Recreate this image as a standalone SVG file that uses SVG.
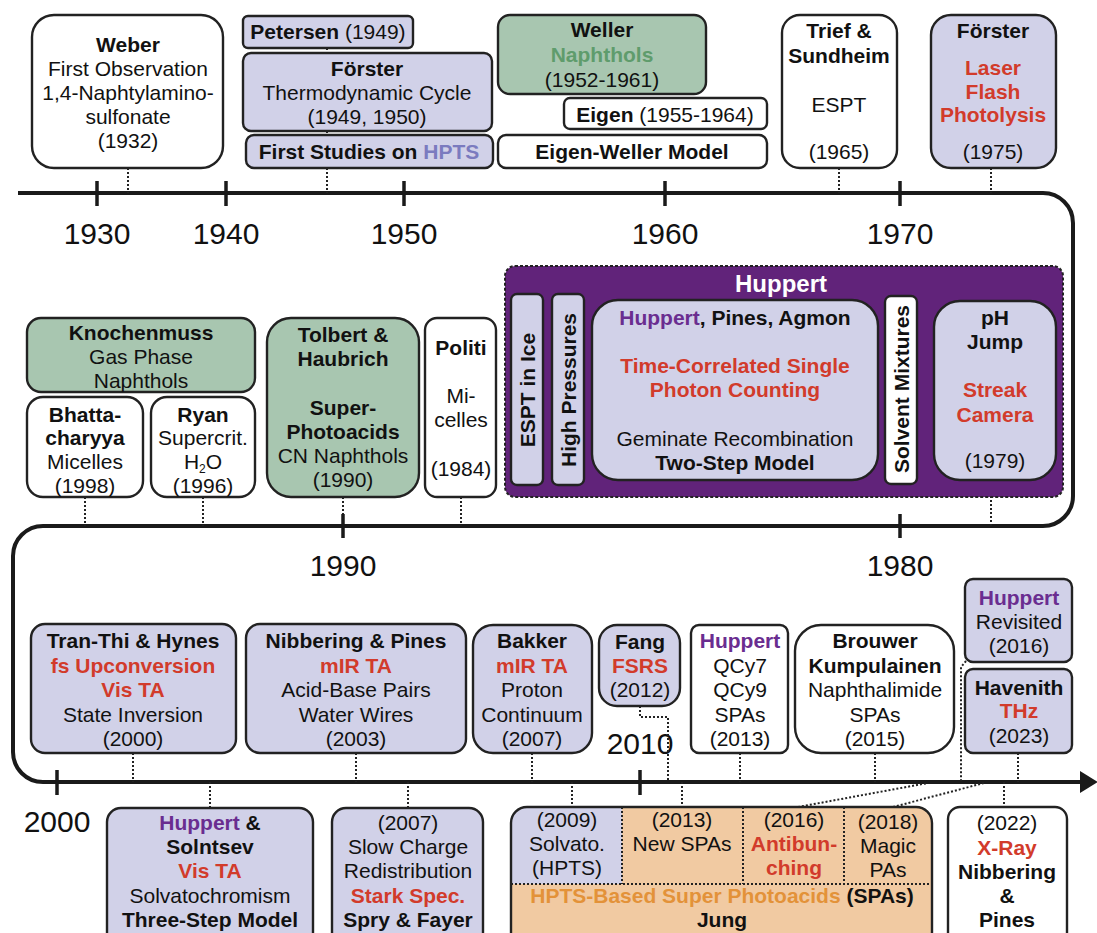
<svg xmlns="http://www.w3.org/2000/svg" width="1097" height="933" viewBox="0 0 1097 933">
<style>
text{font-family:"Liberation Sans",Arial,sans-serif;font-size:21px;fill:#111;text-anchor:middle}
.bd{font-weight:bold}
.r{fill:#d23b2b;font-weight:bold}
.p{fill:#6a2d90;font-weight:bold}
.g{fill:#5f9c6c;font-weight:bold}
.yr{font-size:30px}
.w{fill:#fff;stroke:#222;stroke-width:2.4}
.lav{fill:#d1d1e8;stroke:#222;stroke-width:2.4}
.grn{fill:#a8c6b0;stroke:#222;stroke-width:2.4}
.dot{stroke:#222;stroke-width:2;stroke-dasharray:2 2;fill:none}
.axis{stroke:#1a1a1a;stroke-width:4;fill:none}
.tick{stroke:#1a1a1a;stroke-width:3.5}
</style>
<defs>
<marker id="arr" markerUnits="userSpaceOnUse" markerWidth="18" markerHeight="22" viewBox="0 0 18 22" refX="2" refY="11" orient="auto">
<path d="M0,0 L18,11 L0,22 z" fill="#1a1a1a"/>
</marker>
</defs>
<rect width="1097" height="933" fill="#fff"/>

<g id="timeline">
<path class="axis" d="M18,193 H1043 A30,30 0 0 1 1073,223 V496 A30,30 0 0 1 1043,526 H43 A30,30 0 0 0 13,556 V752 A30,30 0 0 0 43,782 H1082" marker-end="url(#arr)"/>
<g class="tick">
<line x1="97" y1="181" x2="97" y2="206"/>
<line x1="226" y1="181" x2="226" y2="206"/>
<line x1="404" y1="181" x2="404" y2="206"/>
<line x1="665" y1="181" x2="665" y2="206"/>
<line x1="900" y1="181" x2="900" y2="206"/>
<line x1="343" y1="514" x2="343" y2="538"/>
<line x1="900" y1="514" x2="900" y2="538"/>
<line x1="57" y1="770" x2="57" y2="795"/>
<line x1="640" y1="770" x2="640" y2="795"/>
</g>
<g>
<text class="yr" x="97" y="244">1930</text>
<text class="yr" x="226" y="244">1940</text>
<text class="yr" x="404" y="244">1950</text>
<text class="yr" x="665" y="244">1960</text>
<text class="yr" x="900" y="244">1970</text>
<text class="yr" x="343" y="576">1990</text>
<text class="yr" x="900" y="576">1980</text>
<text class="yr" x="57" y="832">2000</text>
<text class="yr" x="640" y="754">2010</text>
</g>
</g>

<g id="connectors">
<path class="dot" d="M128,168 V193"/>
<path class="dot" d="M327,48 V53"/>
<path class="dot" d="M327,131 V135"/>
<path class="dot" d="M327,168 V193"/>
<path class="dot" d="M839,168 V193"/>
<path class="dot" d="M991,168 V193"/>
<path class="dot" d="M85,497 V526"/>
<path class="dot" d="M203,497 V526"/>
<path class="dot" d="M343,497 V514"/>
<path class="dot" d="M461,497 V526"/>
<path class="dot" d="M991,480 V526"/>
<path class="dot" d="M133,753 V782"/>
<path class="dot" d="M356,753 V782"/>
<path class="dot" d="M210,782 V808"/>
<path class="dot" d="M408,782 V808"/>
<path class="dot" d="M532,753 V782"/>
<path class="dot" d="M640,706 V717 H668 V782"/>
<path class="dot" d="M572,782 V807"/>
<path class="dot" d="M682,782 V807"/>
<path class="dot" d="M740,753 V782"/>
<path class="dot" d="M875,753 V782"/>
<path class="dot" d="M966,661 L961,667 V782"/>
<path class="dot" d="M798,807 L928,783"/>
<path class="dot" d="M893,807 L984,783"/>
<path class="dot" d="M1018,753 V782"/>
<path class="dot" d="M1004,782 V807"/>
</g>

<g id="weber">
<rect class="w" x="32" y="15" width="191" height="153" rx="22"/>
<text x="128" y="52" class="bd">Weber</text>
<text x="128" y="76">First Observation</text>
<text x="128" y="100">1,4-Naphtylamino-</text>
<text x="128" y="124">sulfonate</text>
<text x="128" y="148">(1932)</text>
</g>
<g id="petersen">
<rect class="lav" x="243" y="16" width="170" height="32" rx="5"/>
<text x="328" y="39"><tspan class="bd">Petersen</tspan> (1949)</text>
</g>
<g id="forster-1949">
<rect class="lav" x="243" y="53" width="249" height="78" rx="8"/>
<text x="367" y="76" class="bd">Förster</text>
<text x="367" y="100">Thermodynamic Cycle</text>
<text x="367" y="124">(1949, 1950)</text>
</g>
<g id="first-studies">
<rect class="lav" x="246" y="135" width="247" height="33" rx="8"/>
<text x="369" y="159" class="bd">First Studies on <tspan fill="#7b7bbf">HPTS</tspan></text>
</g>
<g id="weller">
<rect class="grn" x="498" y="15" width="208" height="79" rx="12"/>
<text x="602" y="37" class="bd">Weller</text>
<text x="602" y="62" class="g">Naphthols</text>
<text x="602" y="87">(1952-1961)</text>
</g>
<g id="eigen">
<rect class="w" x="564" y="98" width="203" height="31" rx="6"/>
<text x="665" y="122"><tspan class="bd">Eigen</tspan> (1955-1964)</text>
</g>
<g id="eigen-weller">
<rect class="w" x="498" y="135" width="269" height="33" rx="8"/>
<text x="632" y="159" class="bd">Eigen-Weller Model</text>
</g>
<g id="trief">
<rect class="w" x="782" y="15" width="115" height="153" rx="18"/>
<text x="839" y="38" class="bd">Trief &amp;</text>
<text x="839" y="63" class="bd">Sundheim</text>
<text x="839" y="112">ESPT</text>
<text x="839" y="159">(1965)</text>
</g>
<g id="forster-1975">
<rect class="lav" x="931" y="15" width="125" height="153" rx="20"/>
<text x="993" y="38" class="bd">Förster</text>
<text x="993" y="75" class="r">Laser</text>
<text x="993" y="99" class="r">Flash</text>
<text x="993" y="122" class="r">Photolysis</text>
<text x="993" y="159">(1975)</text>
</g>

<g id="knochenmuss">
<rect class="grn" x="27" y="318" width="228" height="74" rx="14"/>
<text x="141" y="340" class="bd">Knochenmuss</text>
<text x="141" y="364">Gas Phase</text>
<text x="141" y="388">Naphthols</text>
</g>
<g id="bhattacharyya">
<rect class="w" x="27" y="397" width="116" height="100" rx="16"/>
<text x="85" y="422" class="bd">Bhatta-</text>
<text x="85" y="445" class="bd">charyya</text>
<text x="85" y="469">Micelles</text>
<text x="85" y="493">(1998)</text>
</g>
<g id="ryan">
<rect class="w" x="151" y="397" width="104" height="100" rx="16"/>
<text x="203" y="422" class="bd">Ryan</text>
<text x="203" y="445">Supercrit.</text>
<text x="203" y="469">H<tspan font-size="12" dy="4">2</tspan><tspan dy="-4">O</tspan></text>
<text x="203" y="493">(1996)</text>
</g>
<g id="tolbert">
<rect class="grn" x="267" y="318" width="152" height="179" rx="24"/>
<text x="343" y="342" class="bd">Tolbert &amp;</text>
<text x="343" y="366" class="bd">Haubrich</text>
<text x="343" y="415" class="bd">Super-</text>
<text x="343" y="439" class="bd">Photoacids</text>
<text x="343" y="463">CN Naphthols</text>
<text x="343" y="487">(1990)</text>
</g>
<g id="politi">
<rect class="w" x="425" y="318" width="71" height="179" rx="12"/>
<text x="461" y="355" class="bd">Politi</text>
<text x="461" y="403">Mi-</text>
<text x="461" y="427">celles</text>
<text x="461" y="476">(1984)</text>
</g>

<g id="huppert-group">
<rect x="505" y="266" width="558" height="231" rx="10" fill="#61237a" stroke="#222" stroke-width="2" stroke-dasharray="3 2"/>
<text x="781" y="292" class="bd" style="fill:#fff;font-size:24px">Huppert</text>
<g id="espt-ice">
<rect class="lav" x="511" y="294" width="32" height="191" rx="6"/>
<text class="bd" transform="translate(534.5,390) rotate(-90)">ESPT in Ice</text>
</g>
<g id="high-pressures">
<rect class="lav" x="552" y="294" width="32" height="191" rx="6"/>
<text class="bd" transform="translate(575.5,390) rotate(-90)">High Pressures</text>
</g>
<g id="huppert-pines-agmon">
<rect class="lav" x="592" y="300" width="286" height="180" rx="26"/>
<text x="735" y="325" class="bd"><tspan class="p">Huppert</tspan>, Pines, Agmon</text>
<text x="735" y="373" class="r">Time-Correlated Single</text>
<text x="735" y="397" class="r">Photon Counting</text>
<text x="735" y="446">Geminate Recombination</text>
<text x="735" y="470" class="bd">Two-Step Model</text>
</g>
<g id="solvent-mixtures">
<rect class="w" x="885" y="296" width="32" height="188" rx="6"/>
<text class="bd" transform="translate(908.5,389) rotate(-90)">Solvent Mixtures</text>
</g>
<g id="ph-jump">
<rect class="lav" x="934" y="301" width="122" height="179" rx="26"/>
<text x="995" y="325" class="bd">pH</text>
<text x="995" y="349" class="bd">Jump</text>
<text x="995" y="397" class="r">Streak</text>
<text x="995" y="422" class="r">Camera</text>
<text x="995" y="468">(1979)</text>
</g>
</g>

<g id="tran-thi">
<rect class="lav" x="31" y="624" width="205" height="129" rx="14"/>
<text x="133" y="648" class="bd">Tran-Thi &amp; Hynes</text>
<text x="133" y="673" class="r">fs Upconversion</text>
<text x="133" y="697" class="r">Vis TA</text>
<text x="133" y="722">State Inversion</text>
<text x="133" y="746">(2000)</text>
</g>
<g id="nibbering-2003">
<rect class="lav" x="246" y="624" width="220" height="129" rx="14"/>
<text x="356" y="648" class="bd">Nibbering &amp; Pines</text>
<text x="356" y="673" class="r">mIR TA</text>
<text x="356" y="697">Acid-Base Pairs</text>
<text x="356" y="722">Water Wires</text>
<text x="356" y="746">(2003)</text>
</g>
<g id="bakker">
<rect class="lav" x="473" y="625" width="119" height="128" rx="20"/>
<text x="532" y="648" class="bd">Bakker</text>
<text x="532" y="673" class="r">mIR TA</text>
<text x="532" y="697">Proton</text>
<text x="532" y="722">Continuum</text>
<text x="532" y="746">(2007)</text>
</g>
<g id="fang">
<rect class="lav" x="599" y="625" width="81" height="81" rx="18"/>
<text x="640" y="649" class="bd">Fang</text>
<text x="640" y="673" class="r">FSRS</text>
<text x="640" y="697">(2012)</text>
</g>
<g id="huppert-qcy">
<rect class="w" x="691" y="625" width="97" height="128" rx="8"/>
<text x="740" y="648" class="p">Huppert</text>
<text x="740" y="673">QCy7</text>
<text x="740" y="697">QCy9</text>
<text x="740" y="722">SPAs</text>
<text x="740" y="746">(2013)</text>
</g>
<g id="brouwer">
<rect class="w" x="795" y="625" width="159" height="128" rx="26"/>
<text x="875" y="648" class="bd">Brouwer</text>
<text x="875" y="673" class="bd">Kumpulainen</text>
<text x="875" y="697">Naphthalimide</text>
<text x="875" y="722">SPAs</text>
<text x="875" y="746">(2015)</text>
</g>
<g id="huppert-revisited">
<rect class="lav" x="965" y="579" width="107" height="83" rx="8"/>
<text x="1019" y="605" class="p">Huppert</text>
<text x="1019" y="629">Revisited</text>
<text x="1019" y="653">(2016)</text>
</g>
<g id="havenith">
<rect class="lav" x="965" y="669" width="107" height="84" rx="8"/>
<text x="1019" y="695" class="bd">Havenith</text>
<text x="1019" y="718" class="r">THz</text>
<text x="1019" y="743">(2023)</text>
</g>

<g id="huppert-solntsev">
<rect class="lav" x="107" y="808" width="206" height="140" rx="14"/>
<text x="210" y="830" class="bd"><tspan class="p">Huppert</tspan> &amp;</text>
<text x="210" y="854" class="bd">Solntsev</text>
<text x="210" y="878" class="r">Vis TA</text>
<text x="210" y="903">Solvatochromism</text>
<text x="210" y="927" class="bd">Three-Step Model</text>
</g>
<g id="spry-fayer">
<rect class="lav" x="332" y="808" width="151" height="140" rx="14"/>
<text x="408" y="830">(2007)</text>
<text x="408" y="854">Slow Charge</text>
<text x="408" y="878">Redistribution</text>
<text x="408" y="903" class="r">Stark Spec.</text>
<text x="408" y="927" class="bd">Spry &amp; Fayer</text>
</g>
<g id="jung">
<rect x="511" y="807" width="421" height="141" rx="16" fill="#f1caa2"/>
<path d="M511,884 V823 A16,16 0 0 1 527,807 H622 V884 Z" fill="#d1d1e8"/>
<path class="dot" d="M622,807 V884 M743,807 V884 M844,807 V884 M511,884 H932"/>
<rect x="511" y="807" width="421" height="141" rx="16" fill="none" stroke="#222" stroke-width="2.4"/>
<text x="567" y="827">(2009)</text>
<text x="567" y="851">Solvato.</text>
<text x="567" y="875">(HPTS)</text>
<text x="682" y="827">(2013)</text>
<text x="682" y="851">New SPAs</text>
<text x="794" y="827">(2016)</text>
<text x="794" y="851" class="r">Antibun-</text>
<text x="794" y="875" class="r">ching</text>
<text x="888" y="829">(2018)</text>
<text x="888" y="853">Magic</text>
<text x="888" y="877">PAs</text>
<text x="722" y="903" class="bd"><tspan fill="#e39239">HPTS-Based Super Photoacids</tspan> (SPAs)</text>
<text x="722" y="927" class="bd">Jung</text>
</g>
<g id="xray">
<rect class="w" x="948" y="807" width="119" height="141" rx="12"/>
<text x="1007" y="830">(2022)</text>
<text x="1007" y="855" class="r">X-Ray</text>
<text x="1007" y="879" class="bd">Nibbering</text>
<text x="1007" y="903" class="bd">&amp;</text>
<text x="1007" y="927" class="bd">Pines</text>
</g>
</svg>
